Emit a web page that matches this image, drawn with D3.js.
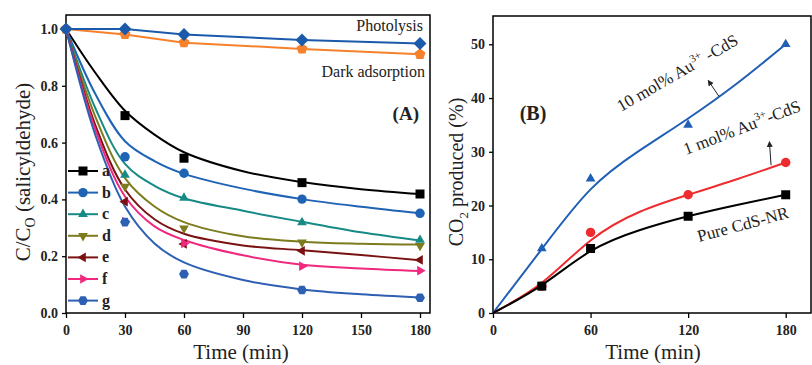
<!DOCTYPE html>
<html><head><meta charset="utf-8">
<script src="https://cdn.jsdelivr.net/npm/d3@7/dist/d3.min.js"></script>
<style>body{margin:0;background:#fff}svg{display:block}text{font-family:"Liberation Serif","Times New Roman",serif}</style>
</head><body>
<svg id="c" width="812" height="365"></svg>
<script>
// ---------- Panel A data ----------
const timesA = [0, 30, 60, 120, 180];
const fitTimesA = [0, 15, 30, 45, 60, 90, 120, 150, 180];
const photolysis = [1.0, 1.0, 0.981, 0.961, 0.949];
const darkAdsorption = [1.0, 0.981, 0.952, 0.93, 0.911];
const seriesNames = ["a", "b", "c", "d", "e", "f", "g"];
const seriesColors = ["#000000", "#1f63b5", "#178a86", "#7c7c1e", "#7a1212", "#f0287e", "#2d5fb3"];
const seriesSymbols = ["square", "circle", "triangleUp", "triangleDown", "triangleLeft", "triangleRight", "hexagon"];
const pointsA = [
  [1, 0.695, 0.545, 0.459, 0.419],
  [1, 0.55, 0.492, 0.401, 0.351],
  [1, 0.486, 0.405, 0.319, 0.257],
  [1, 0.445, 0.298, 0.249, 0.237],
  [1, 0.392, 0.243, 0.219, 0.187],
  [1, 0.322, 0.245, 0.165, 0.149],
  [1, 0.32, 0.137, 0.081, 0.054]
];
const fitsA = [
  [1, 0.845, 0.712, 0.628, 0.566, 0.499, 0.461, 0.436, 0.419],
  [1, 0.77, 0.605, 0.535, 0.49, 0.438, 0.401, 0.374, 0.351],
  [1, 0.72, 0.525, 0.448, 0.404, 0.36, 0.321, 0.284, 0.255],
  [1, 0.69, 0.475, 0.375, 0.32, 0.27, 0.251, 0.244, 0.241],
  [1, 0.66, 0.435, 0.33, 0.279, 0.238, 0.221, 0.204, 0.186],
  [1, 0.645, 0.41, 0.305, 0.257, 0.203, 0.17, 0.157, 0.148],
  [1, 0.625, 0.375, 0.245, 0.178, 0.116, 0.083, 0.066, 0.055]
];
const xTicksA = [0, 30, 60, 90, 120, 150, 180];
const yTicksA = [0, 0.2, 0.4, 0.6, 0.8, 1.0];

// ---------- Panel B data ----------
const timesB = [30, 60, 120, 180];
const fitTimesB = [0, 30, 60, 90, 120, 150, 180];
const namesB = ["10 mol% Au3+-CdS", "1 mol% Au3+-CdS", "Pure CdS-NR"];
const colorsB = ["#1f5fb4", "#ee2b2f", "#000000"];
const symbolsB = ["triangleUp", "circle", "square"];
const pointsB = [
  [12, 25, 35, 50],
  [5, 15, 22, 28],
  [5, 12, 18, 22]
];
const fitsB = [
  [0, 11.9, 23.0, 30.2, 36.2, 42.7, 50],
  [0, 5.6, 13.5, 18.8, 22, 24.9, 28],
  [0, 5.2, 11.5, 15.4, 18, 20.1, 22]
];
const xTicksB = [0, 60, 120, 180];
const yTicksB = [0, 10, 20, 30, 40, 50];

const svg = d3.select("#c");

function poly(n, r, rot) {
  const pts = d3.range(n).map(i => {
    const a = rot + i * 2 * Math.PI / n;
    return [r * Math.cos(a), r * Math.sin(a)];
  });
  return "M" + pts.map(p => p.join(",")).join("L") + "Z";
}
function symPath(kind, s) {
  const r = s / 2;
  switch (kind) {
    case "square": return `M${-r},${-r}H${r}V${r}H${-r}Z`;
    case "circle": return d3.symbol(d3.symbolCircle, Math.PI * r * r * 1.1)();
    case "triangleUp": return poly(3, r * 1.25, -Math.PI / 2);
    case "triangleDown": return poly(3, r * 1.25, Math.PI / 2);
    case "triangleLeft": return poly(3, r * 1.25, Math.PI);
    case "triangleRight": return poly(3, r * 1.25, 0);
    case "hexagon": return poly(6, r * 1.1, 0);
    case "diamond": return poly(4, r * 1.3, 0);
    case "pentagon": return poly(5, r * 1.15, -Math.PI / 2);
  }
}

function drawAxes(x, y, box, xt, yt, fmtY) {
  const g = svg.append("g");
  g.append("rect").attr("x", box[0]).attr("y", box[1]).attr("width", box[2] - box[0]).attr("height", box[3] - box[1])
    .attr("fill", "none").attr("stroke", "#000").attr("stroke-width", 1.5);
  const gx = g.append("g").attr("transform", `translate(0,${box[3]})`)
    .call(d3.axisBottom(x).tickValues(xt).tickSize(5).tickPadding(4).tickFormat(d3.format("d")));
  const gy = g.append("g").attr("transform", `translate(${box[0]},0)`)
    .call(d3.axisLeft(y).tickValues(yt).tickSize(4).tickPadding(4).tickFormat(fmtY));
  [gx, gy].forEach(a => {
    a.select(".domain").remove();
    a.selectAll("line").attr("stroke", "#000").attr("stroke-width", 1.3);
    a.selectAll("text").attr("font-family", "Liberation Serif").attr("font-weight", "bold")
      .attr("font-size", 14).attr("fill", "#222");
  });
  gx.selectAll("text").attr("dy", "0.95em");
}

// ---------- Panel A ----------
const xA = d3.scaleLinear().domain([0, 180]).range([66, 420]);
const yA = d3.scaleLinear().domain([0, 1]).range([313, 29]);
drawAxes(xA, yA, [66, 15, 430, 313], xTicksA, yTicksA, d3.format(".1f"));

const lineA = d3.line().x(d => xA(d[0])).y(d => yA(d[1])).curve(d3.curveCatmullRom.alpha(0.5));
const straightA = d3.line().x(d => xA(d[0])).y(d => yA(d[1]));

fitsA.forEach((f, i) => {
  svg.append("path").attr("d", lineA(fitTimesA.map((t, j) => [t, f[j]])))
    .attr("fill", "none").attr("stroke", seriesColors[i]).attr("stroke-width", 2);
});
pointsA.forEach((p, i) => {
  svg.append("g").selectAll("path").data(timesA.map((t, j) => [t, p[j]]).slice(1)).join("path")
    .attr("d", symPath(seriesSymbols[i], 9))
    .attr("transform", d => `translate(${xA(d[0])},${yA(d[1])})`)
    .attr("fill", seriesColors[i]);
});
[[darkAdsorption, "#f5812c", "pentagon"], [photolysis, "#1b5aab", "diamond"]].forEach(([vals, col, sym]) => {
  const pts = timesA.map((t, j) => [t, vals[j]]);
  svg.append("path").attr("d", straightA(pts)).attr("fill", "none").attr("stroke", col).attr("stroke-width", 2);
  svg.append("g").selectAll("path").data(pts).join("path")
    .attr("d", symPath(sym, 10)).attr("transform", d => `translate(${xA(d[0])},${yA(d[1])})`).attr("fill", col);
});
seriesNames.forEach((n, i) => {
  const ly = 171 + i * 21.6;
  svg.append("line").attr("x1", 68).attr("x2", 98).attr("y1", ly).attr("y2", ly)
    .attr("stroke", seriesColors[i]).attr("stroke-width", 2);
  svg.append("path").attr("d", symPath(seriesSymbols[i], 9)).attr("transform", `translate(83,${ly})`).attr("fill", seriesColors[i]);
  svg.append("text").attr("x", 102).attr("y", ly + 5).attr("font-size", 16).attr("font-weight", "bold").attr("fill", "#222").text(n);
});
svg.append("text").attr("x", 423).attr("y", 31).attr("text-anchor", "end").attr("font-size", 16).attr("fill", "#222").text("Photolysis");
svg.append("text").attr("x", 425).attr("y", 77).attr("text-anchor", "end").attr("font-size", 16).attr("fill", "#222").text("Dark adsorption");
svg.append("text").attr("x", 419).attr("y", 120).attr("text-anchor", "end").attr("font-size", 19).attr("font-weight", "bold").attr("fill", "#222").text("(A)");
svg.append("text").attr("x", 241).attr("y", 359).attr("text-anchor", "middle").attr("font-size", 21).attr("fill", "#222").text("Time (min)");
const ylA = svg.append("text").attr("transform", "translate(30,172) rotate(-90)").attr("text-anchor", "middle").attr("font-size", 21).attr("fill", "#222");
ylA.append("tspan").text("C/C");
ylA.append("tspan").attr("font-size", 14).attr("dy", 5).text("O");
ylA.append("tspan").attr("dy", -5).text(" (salicyldehyde)");

// ---------- Panel B ----------
const xB = d3.scaleLinear().domain([0, 180]).range([493, 785.7]);
const yB = d3.scaleLinear().domain([0, 50]).range([313, 44.3]);
drawAxes(xB, yB, [493, 16, 811, 313], xTicksB, yTicksB, d3.format("d"));
const lineB = d3.line().x(d => xB(d[0])).y(d => yB(d[1])).curve(d3.curveNatural);
fitsB.forEach((f, i) => {
  svg.append("path").attr("d", lineB(fitTimesB.map((t, j) => [t, f[j]])))
    .attr("fill", "none").attr("stroke", colorsB[i]).attr("stroke-width", 2);
});
pointsB.forEach((p, i) => {
  svg.append("g").selectAll("path").data(timesB.map((t, j) => [t, p[j]])).join("path")
    .attr("d", symPath(symbolsB[i], 9))
    .attr("transform", d => `translate(${xB(d[0])},${yB(d[1])})`)
    .attr("fill", colorsB[i]);
});
const arrows = [[[139, 40.3], [132.5, 43.2]], [[171, 27.5], [170, 31.8]]];
svg.append("defs").append("marker").attr("id", "ah").attr("viewBox", "0 0 10 10").attr("refX", 8).attr("refY", 5)
  .attr("markerWidth", 6).attr("markerHeight", 6).attr("orient", "auto")
  .append("path").attr("d", "M0,0L10,5L0,10Z").attr("fill", "#222");
arrows.forEach(a => {
  svg.append("line").attr("x1", xB(a[0][0])).attr("y1", yB(a[0][1])).attr("x2", xB(a[1][0])).attr("y2", yB(a[1][1]))
    .attr("stroke", "#222").attr("stroke-width", 1).attr("marker-end", "url(#ah)");
});
function rotLabel(x, y, ang, parts) {
  const t = svg.append("text").attr("transform", `translate(${x},${y}) rotate(${ang})`).attr("font-size", 17).attr("fill", "#222");
  parts.forEach(p => {
    const s = t.append("tspan").text(p[0]);
    if (p[1]) s.attr("font-size", 11).attr("dy", -7);
    if (p[2]) s.attr("dy", 7);
  });
}
rotLabel(621, 112, -30, [["10 mol% Au"], ["3+", true], [" -CdS", false, true]]);
rotLabel(686, 155, -21, [["1 mol% Au"], ["3+", true], ["-CdS", false, true]]);
rotLabel(699, 242, -15, [["Pure CdS-NR"]]);
svg.append("text").attr("x", 533).attr("y", 120).attr("text-anchor", "middle").attr("font-size", 20).attr("font-weight", "bold").attr("fill", "#222").text("(B)");
svg.append("text").attr("x", 653).attr("y", 359).attr("text-anchor", "middle").attr("font-size", 21).attr("fill", "#222").text("Time (min)");
const ylB = svg.append("text").attr("transform", "translate(463,172) rotate(-90)").attr("text-anchor", "middle").attr("font-size", 20).attr("fill", "#222");
ylB.append("tspan").text("CO");
ylB.append("tspan").attr("font-size", 13).attr("dy", 5).text("2");
ylB.append("tspan").attr("dy", -5).text(" produced (%)");
</script>
</body></html>
